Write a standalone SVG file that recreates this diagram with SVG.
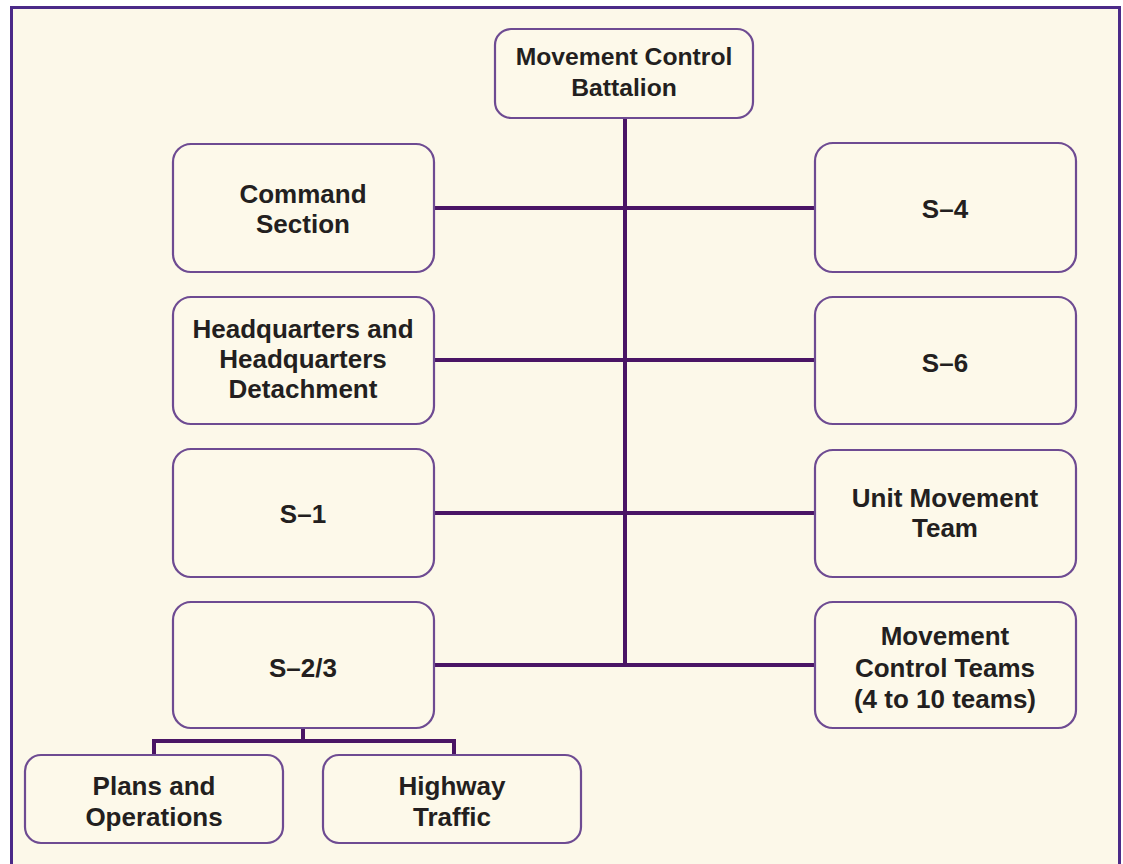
<svg xmlns="http://www.w3.org/2000/svg" width="1123" height="864" viewBox="0 0 1123 864">
<style>
.box{fill:#fdf9ea;stroke:#6e4b92;stroke-width:2.2}
.t{font-family:"Liberation Sans",Arial,sans-serif;font-weight:700;fill:#231f20;text-anchor:middle;font-size:26px}
.conn{stroke:#4a1565;stroke-width:4;fill:none}
</style>
<rect x="0" y="0" width="1123" height="864" fill="#ffffff"/>
<rect x="11.5" y="7.5" width="1108" height="880" fill="#fcf8e9" stroke="#4b2a88" stroke-width="3"/>
<g id="connectors">
<path class="conn" d="M625 118V666"/>
<path class="conn" d="M434 208H815M434 360H815M434 513H815M434 665H815"/>
<path class="conn" d="M303 728V741M154 757V741H454V757"/>
</g>
<g id="mcb"><rect class="box" x="495" y="29" width="258" height="89" rx="16"/>
<text class="t" style="font-size:24.7px"><tspan x="624" y="65">Movement Control</tspan><tspan x="624" y="96">Battalion</tspan></text></g>
<g id="command"><rect class="box" x="173" y="144" width="261" height="128" rx="18"/>
<text class="t"><tspan x="303" y="203">Command</tspan><tspan x="303" y="233">Section</tspan></text></g>
<g id="hhd"><rect class="box" x="173" y="297" width="261" height="127" rx="18"/>
<text class="t"><tspan x="303" y="338">Headquarters and</tspan><tspan x="303" y="368">Headquarters</tspan><tspan x="303" y="398">Detachment</tspan></text></g>
<g id="s1"><rect class="box" x="173" y="449" width="261" height="128" rx="18"/>
<text class="t" x="303" y="523">S–1</text></g>
<g id="s23"><rect class="box" x="173" y="602" width="261" height="126" rx="18"/>
<text class="t" x="303" y="677">S–2/3</text></g>
<g id="s4"><rect class="box" x="815" y="143" width="261" height="129" rx="18"/>
<text class="t" x="945" y="218">S–4</text></g>
<g id="s6"><rect class="box" x="815" y="297" width="261" height="127" rx="18"/>
<text class="t" x="945" y="372">S–6</text></g>
<g id="umt"><rect class="box" x="815" y="450" width="261" height="127" rx="18"/>
<text class="t"><tspan x="945" y="507">Unit Movement</tspan><tspan x="945" y="537">Team</tspan></text></g>
<g id="mct"><rect class="box" x="815" y="602" width="261" height="126" rx="18"/>
<text class="t"><tspan x="945" y="645">Movement</tspan><tspan x="945" y="677">Control Teams</tspan><tspan x="945" y="708">(4 to 10 teams)</tspan></text></g>
<g id="plans"><rect class="box" x="25" y="755" width="258" height="88" rx="16"/>
<text class="t"><tspan x="154" y="795">Plans and</tspan><tspan x="154" y="826">Operations</tspan></text></g>
<g id="highway"><rect class="box" x="323" y="755" width="258" height="88" rx="16"/>
<text class="t"><tspan x="452" y="795">Highway</tspan><tspan x="452" y="826">Traffic</tspan></text></g>
</svg>
